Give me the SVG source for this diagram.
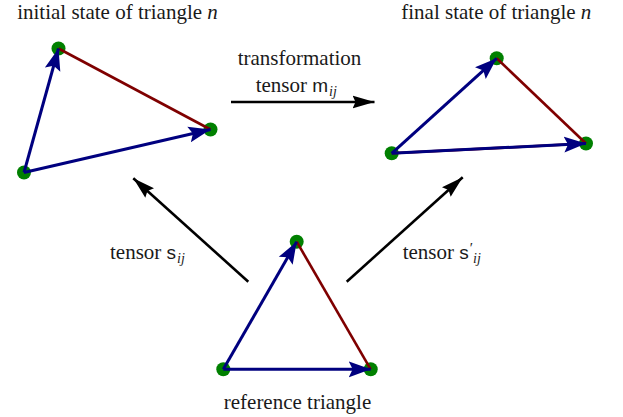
<svg xmlns="http://www.w3.org/2000/svg" width="623" height="417" viewBox="0 0 623 417">
<style>
text{font-family:"Liberation Serif","Times New Roman",serif;font-size:21px;fill:#1a1a1a}
.it{font-style:italic}
.sf{font-family:"Liberation Sans",Arial,sans-serif;font-size:19px}
.sub{font-style:italic;font-size:14px}
.pr{font-size:15px}
.dot{fill:#008000}
.blue{stroke:#00007f;stroke-width:3;fill:none;marker-end:url(#bh)}
.red{stroke:#7f0000;stroke-width:2.6;fill:none}
.blk{stroke:#000;stroke-width:2.6;fill:none;marker-end:url(#kh)}
</style>
<defs>
<marker id="bh" markerUnits="userSpaceOnUse" viewBox="0 -9 24 18" refX="22" refY="0" markerWidth="24" markerHeight="18" orient="auto">
<path d="M22,0 L0,-8 L4,0 L0,8 Z" fill="#00007f"/>
</marker>
<marker id="kh" markerUnits="userSpaceOnUse" viewBox="0 -8 24 16" refX="22" refY="0" markerWidth="24" markerHeight="16" orient="auto">
<path d="M22,0 L0,-6.5 L3,0 L0,6.5 Z" fill="#000"/>
</marker>
</defs>

<g id="initial-triangle">
<circle class="dot" cx="58.5" cy="48.5" r="7"/>
<circle class="dot" cx="210.5" cy="129.5" r="7"/>
<circle class="dot" cx="24" cy="172.5" r="7"/>
<line class="red" x1="58.5" y1="48.5" x2="210.5" y2="129.5"/>
<line class="blue" x1="24" y1="172.5" x2="58.5" y2="48.5"/>
<line class="blue" x1="24" y1="172.5" x2="210.5" y2="129.5"/>
<text x="117.5" y="19" text-anchor="middle">initial state of triangle <tspan class="it">n</tspan></text>
</g>

<g id="final-triangle">
<circle class="dot" cx="496.7" cy="58.3" r="7"/>
<circle class="dot" cx="586" cy="143.5" r="7"/>
<circle class="dot" cx="391.7" cy="153.3" r="7"/>
<line class="red" x1="496.7" y1="58.3" x2="586" y2="143.5"/>
<line class="red" x1="391.7" y1="153.3" x2="586" y2="143.5"/>
<line class="blue" x1="391.7" y1="153.3" x2="496.7" y2="58.3"/>
<line class="blue" x1="391.7" y1="153.3" x2="586" y2="143.5"/>
<text x="496.3" y="19" text-anchor="middle">final state of triangle <tspan class="it">n</tspan></text>
</g>

<g id="reference-triangle">
<circle class="dot" cx="296.7" cy="241.7" r="7"/>
<circle class="dot" cx="223.3" cy="369.3" r="7"/>
<circle class="dot" cx="370.7" cy="369.3" r="7"/>
<line class="red" x1="296.7" y1="241.7" x2="370.7" y2="369.3"/>
<line class="blue" x1="223.3" y1="369.3" x2="296.7" y2="241.7"/>
<line class="blue" x1="223.3" y1="369.3" x2="370.7" y2="369.3"/>
<text x="297.5" y="409" text-anchor="middle">reference triangle</text>
</g>

<g id="connectors">
<line class="blk" x1="231" y1="102" x2="374.5" y2="102"/>
<line class="blk" x1="248.3" y1="281.7" x2="133.3" y2="178.3"/>
<line class="blk" x1="346.7" y1="281.7" x2="462.7" y2="177.3"/>
</g>

<g id="labels">
<text x="299.5" y="65" text-anchor="middle">transformation</text>
<text x="255.7" y="92">tensor <tspan class="sf">m</tspan><tspan class="sub" dx="1" dy="4">ij</tspan></text>
<text x="110" y="259">tensor <tspan class="sf">s</tspan><tspan class="sub" dx="1" dy="4">ij</tspan></text>
<text x="402.7" y="259">tensor <tspan class="sf">s</tspan><tspan class="pr" dx="1" dy="-6">′</tspan><tspan class="sub" dx="0" dy="10">ij</tspan></text>
</g>
</svg>
